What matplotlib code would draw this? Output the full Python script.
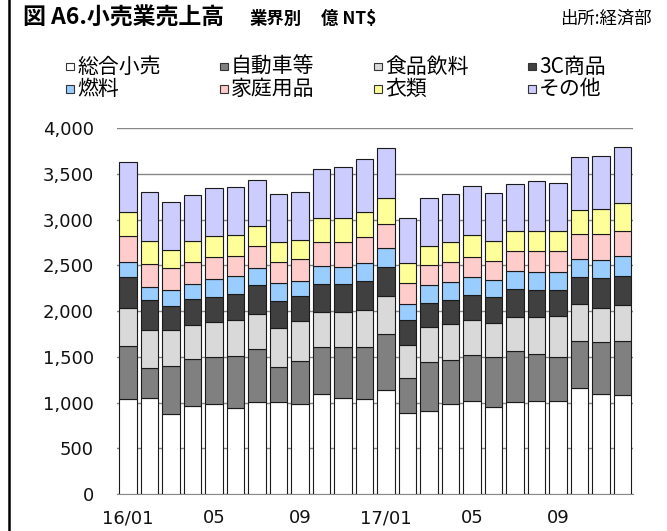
import matplotlib.pyplot as plt
from matplotlib.patches import Rectangle
from matplotlib.lines import Line2D

plt.rcParams['font.family'] = ['Noto Sans CJK JP', 'DejaVu Sans']

# * Data (億 NT$, monthly 2016/01 .. 2017/12)

months = ["16/01", "02", "03", "04", "05", "06", "07", "08", "09", "10", "11", "12",
          "17/01", "02", "03", "04", "05", "06", "07", "08", "09", "10", "11", "12"]

general   = [1036, 1047, 872, 963, 981, 944, 1010, 1003, 981, 1091, 1054, 1039,
             1134, 883, 908, 981, 1014, 948, 1003, 1014, 1014, 1160, 1097, 1080]
autos     = [583, 328, 532, 510, 514, 569, 576, 386, 478, 517, 558, 566,
             620, 389, 533, 488, 510, 551, 565, 514, 485, 511, 566, 591]
food      = [416, 416, 387, 376, 383, 394, 383, 430, 434, 380, 376, 411,
             415, 361, 389, 387, 383, 368, 372, 408, 452, 404, 375, 397]
c3        = [339, 331, 269, 284, 280, 281, 317, 292, 270, 306, 306, 311,
             318, 271, 263, 270, 267, 285, 306, 292, 284, 296, 325, 320]
fuel      = [161, 143, 168, 164, 191, 197, 190, 197, 171, 200, 189, 200,
             208, 175, 197, 190, 200, 186, 197, 201, 197, 197, 197, 216]
household = [287, 248, 241, 244, 240, 219, 234, 227, 237, 266, 277, 281,
             255, 229, 219, 219, 223, 208, 215, 229, 226, 276, 281, 277]
clothing  = [266, 258, 204, 223, 233, 226, 219, 218, 211, 259, 259, 277,
             285, 216, 207, 225, 240, 218, 223, 223, 223, 266, 277, 306]
other     = [541, 529, 518, 510, 529, 525, 510, 529, 518, 540, 555, 576,
             547, 492, 526, 519, 533, 526, 507, 540, 525, 573, 580, 606]

names  = ["総合小売", "自動車等", "食品飲料", "3C商品",
          "燃料", "家庭用品", "衣類", "その他"]
series = [general, autos, food, c3, fuel, household, clothing, other]
colors = ["#ffffff", "#808080", "#d9d9d9", "#404040",
          "#99ccff", "#ffcccc", "#ffff99", "#ccccff"]

W, H = 667, 531


def fx(x):
    return x / W


def fy(y):
    return 1 - y / H


# * Plot

fig = plt.figure(figsize=(W / 100, H / 100), dpi=100)
ax = fig.add_axes([fx(117.3), fy(494), (633.3 - 117.3) / W, (494 - 128.3) / H])

x = list(range(len(months)))
bottom = [0] * len(months)
for vals, col in zip(series, colors):
    ax.bar(x, vals, bottom=bottom, width=0.83, color=col,
           edgecolor="#1a1a1a", linewidth=0.8, zorder=3)
    bottom = [b + v for b, v in zip(bottom, vals)]

ax.set_xlim(-0.5, len(months) - 0.5)
ax.set_ylim(0, 4000)
ax.set_yticks(range(0, 4001, 500))
ax.set_yticklabels(["{:,}".format(v) for v in range(0, 4001, 500)],
                   fontsize=13, family="DejaVu Sans", color="#111111")
ax.set_xticks(x[::4])
ax.set_xticklabels(months[::4], fontsize=13, family="DejaVu Sans", color="#111111")
ax.tick_params(length=0)
ax.tick_params(axis="y", pad=17)
ax.tick_params(axis="x", pad=11)
ax.yaxis.grid(True, color="#888888", linewidth=1.0, zorder=0)
for s in ["left", "right", "top"]:
    ax.spines[s].set_visible(False)
ax.spines["bottom"].set_color("#888888")

# title and source
fig.text(fx(23), fy(18), "図 A6.小売業売上高", fontsize=16.5, weight="bold", va="center")
fig.text(fx(250), fy(19), "業界別", fontsize=12.5, weight="bold", va="center")
fig.text(fx(321), fy(19), "億 NT$", fontsize=12.5, weight="bold", va="center")
fig.text(fx(652), fy(19), "出所:経済部", fontsize=12.5, ha="right", va="center")

# legend drawn by hand (even column spacing, like the Excel legend)
leg_x = [66, 220, 374, 528]
leg_y = [67, 89]
for i, (name, col) in enumerate(zip(names, colors)):
    lx = leg_x[i % 4]
    ly = leg_y[i // 4]
    fig.patches.append(Rectangle((fx(lx), fy(ly + 3.5)), 7.5 / W, 7.5 / H,
                                 transform=fig.transFigure, facecolor=col,
                                 edgecolor="#333333", linewidth=0.8))
    fig.text(fx(lx + 11), fy(ly), name, fontsize=15, va="center")

# left frame line
fig.lines.append(Line2D([fx(9), fx(9)], [0, 1], transform=fig.transFigure,
                        color="black", linewidth=1.8))

fig.savefig("out.png", dpi=100)
